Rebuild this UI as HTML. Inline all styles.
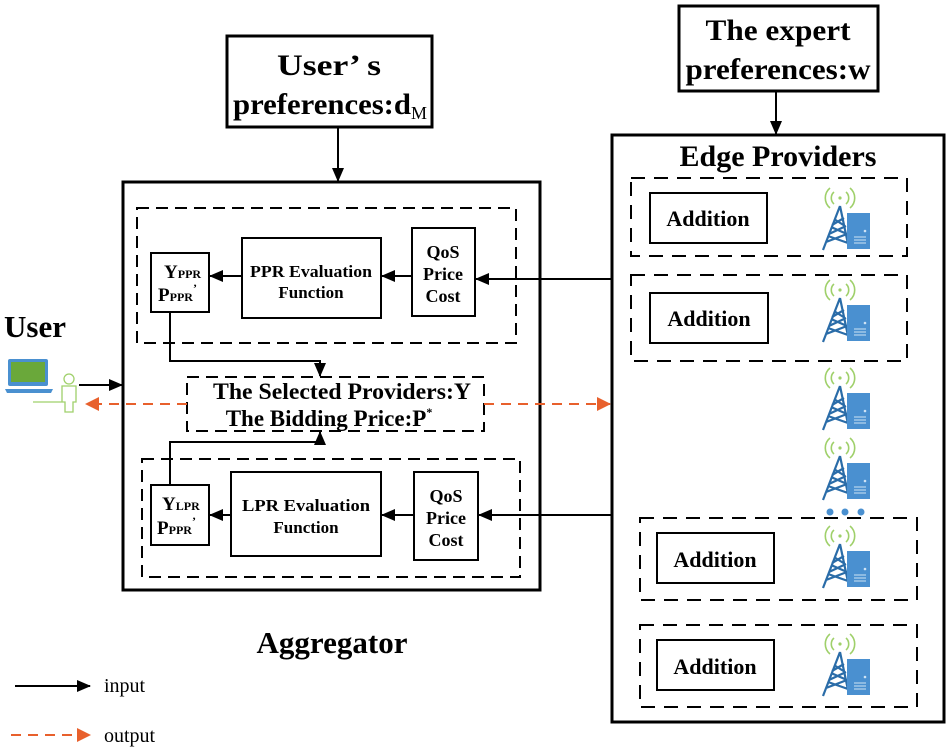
<!DOCTYPE html>
<html><head><meta charset="utf-8"><style>
html,body{margin:0;padding:0;background:#fff}
svg{display:block}
text{font-family:"Liberation Serif",serif;font-weight:bold;fill:#000}
text.n{font-weight:normal}
</style></head><body>
<svg width="950" height="753" viewBox="0 0 950 753" xmlns="http://www.w3.org/2000/svg">
<defs>
<marker id="ab" markerWidth="14" markerHeight="12" refX="13" refY="6" orient="auto" markerUnits="userSpaceOnUse"><path d="M0,0 L14,6 L0,12 z" fill="#000"/></marker>
<marker id="ao" markerWidth="14" markerHeight="14" refX="13" refY="7" orient="auto" markerUnits="userSpaceOnUse"><path d="M0,0 L14,7 L0,14 z" fill="#e8602c"/></marker>
<g id="tw">
<path d="M12,4 A8,8 0 0 0 12,16 M24,4 A8,8 0 0 1 24,16 M8,0 A13,13 0 0 0 8,20 M28,0 A13,13 0 0 1 28,20" fill="none" stroke="#9fd06a" stroke-width="1.6"/>
<circle cx="18" cy="10" r="1.6" fill="#9fd06a"/>
<path d="M18,18 L1,62 M18,18 L26,56 M4,54 L25,46 M7,46 L24,38 M10,37 L22,30 M6,48 L26,55 M9,39 L25,46 M12,31 L23,38" fill="none" stroke="#2a6ca8" stroke-width="2.2"/>
<rect x="25" y="25" width="23" height="36" fill="#4a90d0"/>
<circle cx="43" cy="43" r="1.3" fill="#cfe3f5"/>
<path d="M32,49 H44 M32,52 H44 M32,55 H44" stroke="#cfe3f5" stroke-width="1"/>
</g>
</defs>

<!-- top boxes -->
<rect x="227" y="36" width="205" height="91" fill="none" stroke="#000" stroke-width="3"/>
<text x="329" y="75" font-size="30" text-anchor="middle" textLength="104" lengthAdjust="spacingAndGlyphs">User’ s</text>
<text x="233" y="114" font-size="30" textLength="178" lengthAdjust="spacingAndGlyphs">preferences:d</text><text x="411" y="119" font-size="18" class="n">M</text>
<line x1="338" y1="127" x2="338" y2="181" stroke="#000" stroke-width="2" marker-end="url(#ab)"/>

<rect x="679" y="6" width="199" height="85" fill="none" stroke="#000" stroke-width="3"/>
<text x="778" y="40" font-size="30" text-anchor="middle" textLength="145" lengthAdjust="spacingAndGlyphs">The expert</text>
<text x="778" y="79" font-size="30" text-anchor="middle" textLength="185" lengthAdjust="spacingAndGlyphs">preferences:w</text>
<line x1="776" y1="91" x2="776" y2="134" stroke="#000" stroke-width="2" marker-end="url(#ab)"/>

<!-- aggregator -->
<rect x="123" y="182" width="417" height="408" fill="none" stroke="#000" stroke-width="3"/>
<rect x="137" y="208" width="379" height="135" fill="none" stroke="#000" stroke-width="2" stroke-dasharray="12,7"/>
<rect x="151" y="253" width="58" height="59" fill="none" stroke="#000" stroke-width="2"/>
<text x="164" y="278" font-size="19">Y<tspan font-size="12">PPR</tspan></text>
<text x="158" y="301" font-size="19">P<tspan font-size="12">PPR</tspan><tspan dy="-9" font-size="12">’</tspan></text>
<rect x="242" y="238" width="139" height="80" fill="none" stroke="#000" stroke-width="2"/>
<text x="311" y="277" font-size="17" text-anchor="middle" textLength="122" lengthAdjust="spacingAndGlyphs">PPR Evaluation</text>
<text x="311" y="298" font-size="17" text-anchor="middle">Function</text>
<rect x="412" y="228" width="63" height="88" fill="none" stroke="#000" stroke-width="2"/>
<text x="443" y="258" font-size="18" text-anchor="middle">QoS</text>
<text x="443" y="280" font-size="18" text-anchor="middle">Price</text>
<text x="443" y="302" font-size="18" text-anchor="middle">Cost</text>
<line x1="612" y1="279" x2="476" y2="279" stroke="#000" stroke-width="2" marker-end="url(#ab)"/>
<line x1="412" y1="276" x2="382" y2="276" stroke="#000" stroke-width="2" marker-end="url(#ab)"/>
<line x1="242" y1="276" x2="210" y2="276" stroke="#000" stroke-width="2" marker-end="url(#ab)"/>
<polyline points="170,312 170,361 320,361 320,376" fill="none" stroke="#000" stroke-width="2" marker-end="url(#ab)"/>

<rect x="187" y="377" width="297" height="54" fill="none" stroke="#000" stroke-width="2" stroke-dasharray="12,7"/>
<text x="342" y="399" font-size="23" text-anchor="middle" textLength="258" lengthAdjust="spacingAndGlyphs">The Selected Providers:Y</text>
<text x="329" y="426" font-size="23" text-anchor="middle">The Bidding Price:P<tspan dy="-10" font-size="12">*</tspan></text>

<rect x="142" y="459" width="378" height="118" fill="none" stroke="#000" stroke-width="2" stroke-dasharray="12,7"/>
<rect x="151" y="485" width="58" height="60" fill="none" stroke="#000" stroke-width="2"/>
<text x="162" y="510" font-size="19">Y<tspan font-size="12">LPR</tspan></text>
<text x="157" y="534" font-size="19">P<tspan font-size="12">PPR</tspan><tspan dy="-9" font-size="12">’</tspan></text>
<rect x="231" y="472" width="150" height="84" fill="none" stroke="#000" stroke-width="2"/>
<text x="306" y="511" font-size="17" text-anchor="middle" textLength="128" lengthAdjust="spacingAndGlyphs">LPR  Evaluation</text>
<text x="306" y="533" font-size="17" text-anchor="middle">Function</text>
<rect x="414" y="472" width="64" height="88" fill="none" stroke="#000" stroke-width="2"/>
<text x="446" y="502" font-size="18" text-anchor="middle">QoS</text>
<text x="446" y="524" font-size="18" text-anchor="middle">Price</text>
<text x="446" y="546" font-size="18" text-anchor="middle">Cost</text>
<line x1="612" y1="515" x2="479" y2="515" stroke="#000" stroke-width="2" marker-end="url(#ab)"/>
<line x1="414" y1="515" x2="382" y2="515" stroke="#000" stroke-width="2" marker-end="url(#ab)"/>
<line x1="231" y1="515" x2="210" y2="515" stroke="#000" stroke-width="2" marker-end="url(#ab)"/>
<polyline points="170,485 170,442 320,442 320,432" fill="none" stroke="#000" stroke-width="2" marker-end="url(#ab)"/>

<text x="332" y="653" font-size="31" text-anchor="middle">Aggregator</text>

<!-- user -->
<text x="4" y="337" font-size="31">User</text>
<rect x="8" y="359" width="40" height="27" rx="2" fill="#4a90d0"/>
<rect x="11" y="362" width="34" height="20" fill="#6aa83a"/>
<path d="M5,389 H53 L51,393 H7 z" fill="#4a90d0"/>
<circle cx="69" cy="379" r="5" fill="none" stroke="#9fd06a" stroke-width="1.3"/>
<path d="M62,386 H76 V402 H73 V412 H65 V402 H62 z M33,402 H62" fill="none" stroke="#9fd06a" stroke-width="1.3"/>
<line x1="79" y1="385" x2="122" y2="385" stroke="#000" stroke-width="2" marker-end="url(#ab)"/>
<line x1="187" y1="404" x2="86" y2="404" stroke="#e8602c" stroke-width="2" stroke-dasharray="10,7" marker-end="url(#ao)"/>
<line x1="484" y1="404" x2="610" y2="404" stroke="#e8602c" stroke-width="2" stroke-dasharray="10,7" marker-end="url(#ao)"/>

<!-- edge providers -->
<rect x="612" y="135" width="332" height="587" fill="none" stroke="#000" stroke-width="3"/>
<text x="778" y="166" font-size="30" text-anchor="middle">Edge Providers</text>
<rect x="631" y="178" width="276" height="78" fill="none" stroke="#000" stroke-width="2" stroke-dasharray="14,9"/>
<rect x="631" y="275" width="276" height="86" fill="none" stroke="#000" stroke-width="2" stroke-dasharray="14,9"/>
<rect x="640" y="518" width="277" height="82" fill="none" stroke="#000" stroke-width="2" stroke-dasharray="14,9"/>
<rect x="640" y="625" width="277" height="82" fill="none" stroke="#000" stroke-width="2" stroke-dasharray="14,9"/>
<rect x="650" y="193" width="117" height="50" fill="none" stroke="#000" stroke-width="2"/>
<text x="708" y="226" font-size="22" text-anchor="middle">Addition</text>
<rect x="650" y="293" width="118" height="50" fill="none" stroke="#000" stroke-width="2"/>
<text x="709" y="326" font-size="22" text-anchor="middle">Addition</text>
<rect x="657" y="533" width="117" height="50" fill="none" stroke="#000" stroke-width="2"/>
<text x="715" y="567" font-size="22" text-anchor="middle">Addition</text>
<rect x="657" y="640" width="117" height="50" fill="none" stroke="#000" stroke-width="2"/>
<text x="715" y="674" font-size="22" text-anchor="middle">Addition</text>
<use href="#tw" x="822" y="188"/>
<use href="#tw" x="822" y="280"/>
<use href="#tw" x="822" y="368"/>
<use href="#tw" x="822" y="438"/>
<use href="#tw" x="822" y="526"/>
<use href="#tw" x="822" y="634"/>
<circle cx="830" cy="512" r="3.5" fill="#4a90d0"/>
<circle cx="845" cy="512" r="3.5" fill="#4a90d0"/>
<circle cx="861" cy="512" r="3.5" fill="#4a90d0"/>

<!-- legend -->
<line x1="15" y1="686" x2="90" y2="686" stroke="#000" stroke-width="2" marker-end="url(#ab)"/>
<text x="104" y="692" font-size="20" class="n">input</text>
<line x1="11" y1="735" x2="90" y2="735" stroke="#e8602c" stroke-width="2" stroke-dasharray="10,7" marker-end="url(#ao)"/>
<text x="104" y="742" font-size="20" class="n">output</text>
</svg>
</body></html>
